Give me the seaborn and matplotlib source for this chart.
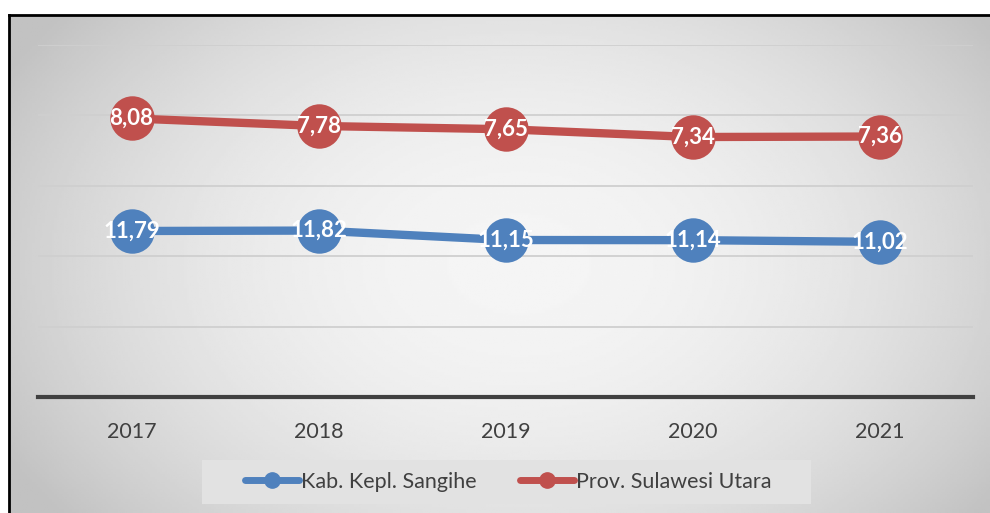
import numpy as np
import pandas as pd
import matplotlib
matplotlib.use("Agg")
import matplotlib.pyplot as plt
import seaborn as sns
from matplotlib.lines import Line2D
from matplotlib.patches import Rectangle

years = ["2017", "2018", "2019", "2020", "2021"]
sangihe = [11.79, 11.82, 11.15, 11.14, 11.02]
sulut = [8.08, 7.78, 7.65, 7.34, 7.36]
series_names = ["Kab. Kepl. Sangihe", "Prov. Sulawesi Utara"]

BLUE = "#4f81bd"
RED = "#c0504d"

sns.set_theme(style="white")
plt.rcParams["font.family"] = ["Lato", "DejaVu Sans"]

df = pd.DataFrame({"year": years, "sangihe": sangihe, "sulut": sulut})

fig = plt.figure(figsize=(9.9, 5.13), dpi=100)
fig.patch.set_facecolor("white")

# background panel with gradient and black frame
bg = fig.add_axes([9 / 990, 0, 1 - 9 / 990, (513 - 15) / 513])
ny, nx = 200, 400
yy, xx = np.mgrid[0:1:ny * 1j, 0:1:nx * 1j]
d = np.sqrt(((xx - 0.52) / 0.55) ** 2 + ((yy - 0.5) / 0.75) ** 2)
grad = np.clip(0.96 - 0.17 * d ** 2, 0.76, 0.965)
bg.imshow(grad, cmap="gray", vmin=0, vmax=1, aspect="auto", extent=[0, 1, 0, 1], origin="upper")
bg.set_xlim(0, 1)
bg.set_ylim(0, 1)
bg.set_xticks([])
bg.set_yticks([])
for s in ["right", "bottom"]:
    bg.spines[s].set_visible(False)
for s in ["left", "top"]:
    bg.spines[s].set_color("black")
    bg.spines[s].set_linewidth(2)

# legend background box
bg.add_patch(Rectangle((202 / 990, 9 / 513), 609 / 990, 44 / 513, transform=fig.transFigure,
                       facecolor="#e2e2e2", edgecolor="none", zorder=5))

L, R = 38 / 990, 973 / 990
B, T = 1 - 397 / 513, 1 - 45 / 513
ax = fig.add_axes([L, B, R - L, T - B])
ax.patch.set_visible(False)

sns.lineplot(data=df, x="year", y="sangihe", ax=ax, color=BLUE, lw=6,
             marker="o", markersize=32, markeredgewidth=0, sort=False, zorder=3)
ax.set_xlim(-0.5, 4.5)
ax.set_ylim(0, 25)
ax.set_yticks([0, 5, 10, 15, 20, 25])
ax.set_yticklabels([])
ax.tick_params(axis="y", length=0)
ax.grid(axis="y", color="#cfcfcf", lw=1.3)
ax.grid(axis="x", visible=False)
ax.set_xlabel("")
ax.set_ylabel("")
for s in ["left", "right", "top"]:
    ax.spines[s].set_visible(False)
ax.spines["bottom"].set_color("#404040")
ax.spines["bottom"].set_linewidth(3)
ax.tick_params(axis="x", length=0, pad=18, labelsize=15.5, labelcolor="#404040")

ax2 = ax.twinx()
ax2.patch.set_visible(False)
sns.lineplot(data=df, x="year", y="sulut", ax=ax2, color=RED, lw=6,
             marker="o", markersize=32, markeredgewidth=0, sort=False, zorder=3)
ax2.set_ylim(-3, 11)
ax2.set_yticks([])
ax2.set_ylabel("")
for s in ax2.spines.values():
    s.set_visible(False)
ax2.set_xlim(-0.5, 4.5)

for i, v in enumerate(sangihe):
    ax.text(i, v, f"{v:.2f}".replace(".", ","), ha="center", va="center",
            color="white", fontsize=16, fontweight="bold", zorder=5)
for i, v in enumerate(sulut):
    ax2.text(i, v, f"{v:.2f}".replace(".", ","), ha="center", va="center",
             color="white", fontsize=16, fontweight="bold", zorder=5)

handles = [Line2D([], [], color=BLUE, lw=5, marker="o", markersize=11),
           Line2D([], [], color=RED, lw=5, marker="o", markersize=11)]
leg = fig.legend(handles, series_names, loc="center", bbox_to_anchor=(508.5 / 990, 1 - 482 / 513),
                 ncol=2, frameon=False, fontsize=15.5,
                 handlelength=2.5, handletextpad=0.1, columnspacing=2.0,
                 borderpad=0.6, borderaxespad=0)
for t in leg.get_texts():
    t.set_color("#404040")

fig.savefig("out.png", dpi=100)
